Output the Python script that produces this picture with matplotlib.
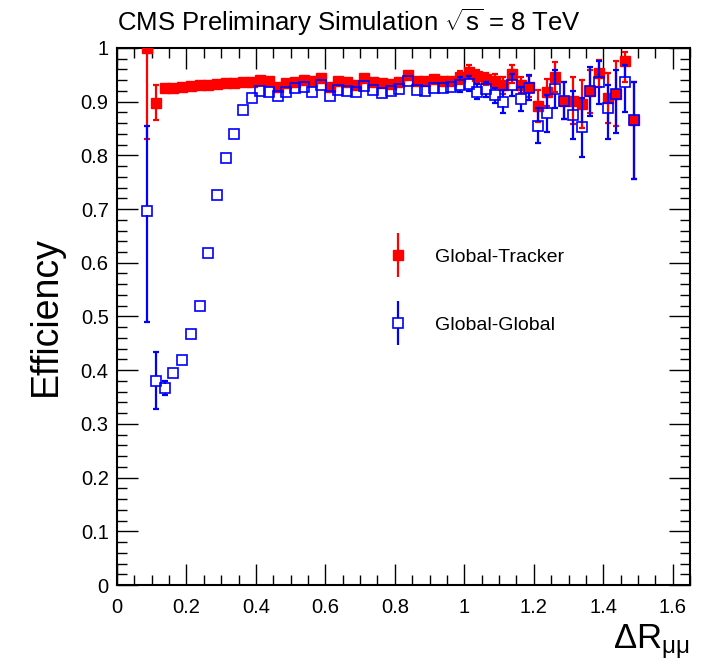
import numpy as np
import matplotlib
matplotlib.use("Agg")
import matplotlib.pyplot as plt
from matplotlib.ticker import MultipleLocator
from matplotlib.lines import Line2D

plt.rcParams['font.family'] = ['Liberation Sans', 'DejaVu Sans']
plt.rcParams['mathtext.fontset'] = 'custom'
plt.rcParams['mathtext.rm'] = 'Liberation Sans'
plt.rcParams['mathtext.it'] = 'Liberation Sans'

# bin centres of dR(mu,mu), 0.025 wide bins
dr = 0.0875 + 0.025 * np.arange(57)

# Global-Tracker efficiency
eff_gt = [1.000, 0.898, 0.925, 0.926, 0.928, 0.929, 0.930, 0.931, 0.932, 0.934,
          0.935, 0.936, 0.937, 0.940, 0.939, 0.927, 0.934, 0.937, 0.940, 0.938,
          0.944, 0.927, 0.938, 0.936, 0.931, 0.944, 0.936, 0.934, 0.933, 0.936,
          0.950, 0.939, 0.938, 0.942, 0.938, 0.939, 0.945, 0.956, 0.947, 0.942,
          0.939, 0.930, 0.952, 0.931, 0.928, 0.892, 0.917, 0.945, 0.902, 0.902,
          0.896, 0.919, 0.953, 0.907, 0.915, 0.976, 0.866]
err_gt_lo = [0.170, 0.033] + [0.004] * 19 + [0.005] * 9 + [0.008] * 6 + [0.012] * 5 + \
            [0.015, 0.017, 0.015, 0.020, 0.030, 0.025, 0.028, 0.034, 0.043, 0.045,
             0.040, 0.025, 0.047, 0.060, 0.040, 0.110]
err_gt_hi = [0.000, 0.033] + [0.004] * 19 + [0.005] * 9 + [0.008] * 6 + [0.012] * 5 + \
            [0.015, 0.017, 0.015, 0.020, 0.030, 0.025, 0.028, 0.034, 0.043, 0.045,
             0.040, 0.025, 0.047, 0.060, 0.017, 0.070]

# Global-Global efficiency
eff_gg = [0.697, 0.380, 0.366, 0.394, 0.419, 0.468, 0.520, 0.618, 0.726, 0.795,
          0.840, 0.884, 0.907, 0.919, 0.917, 0.911, 0.917, 0.925, 0.927, 0.917,
          0.930, 0.911, 0.922, 0.920, 0.917, 0.929, 0.922, 0.916, 0.919, 0.923,
          0.939, 0.922, 0.920, 0.925, 0.925, 0.928, 0.931, 0.933, 0.918, 0.923,
          0.912, 0.900, 0.931, 0.905, 0.926, 0.855, 0.878, 0.923, 0.902, 0.875,
          0.852, 0.919, 0.936, 0.889, 0.915, 0.936, 0.866]
err_gg_lo = [0.207, 0.053, 0.013] + [0.005] * 10 + [0.004] * 17 + [0.008] * 6 + [0.014] * 5 + \
            [0.022, 0.020, 0.022, 0.023, 0.033, 0.035, 0.035, 0.034, 0.045, 0.055,
             0.045, 0.040, 0.058, 0.073, 0.056, 0.110]
err_gg_hi = [0.158, 0.053, 0.013] + [0.005] * 10 + [0.004] * 17 + [0.008] * 6 + [0.014] * 5 + \
            [0.022, 0.020, 0.022, 0.023, 0.033, 0.035, 0.035, 0.034, 0.045, 0.055,
             0.045, 0.040, 0.042, 0.044, 0.032, 0.070]

fig = plt.figure(figsize=(7.02, 6.65), dpi=100)
ax = fig.add_axes([0.1667, 0.1203, 0.8163, 0.8077])
ax.set_xlim(0, 1.65)
ax.set_ylim(0, 1)

MS = 6.8


def root_errors(x, y, lo, hi, color, z):
    # ROOT style: bars stop at the marker edge, hidden when inside it
    x = np.asarray(x); y = np.asarray(y); lo = np.asarray(lo); hi = np.asarray(hi)
    ax_h_px = ax.get_position().height * fig.get_figheight() * fig.dpi
    half = (MS / 2) * fig.dpi / 72 / ax_h_px
    up = hi > half
    dn = lo > half
    ax.vlines(x[up], y[up] + half, y[up] + hi[up], color=color, lw=1.6, zorder=z)
    ax.vlines(x[dn], y[dn] - lo[dn], y[dn] - half, color=color, lw=1.6, zorder=z)
    ax.plot(x[up], (y + hi)[up], ls='none', marker='_', ms=5, mew=1.6, color=color, zorder=z)
    ax.plot(x[dn], (y - lo)[dn], ls='none', marker='_', ms=5, mew=1.6, color=color, zorder=z)


root_errors(dr, eff_gt, err_gt_lo, err_gt_hi, '#ff0000', 2)
ax.plot(dr, eff_gt, ls='none', marker='s', ms=MS, color='#ff0000', mec='#ff0000', zorder=3)
root_errors(dr, eff_gg, err_gg_lo, err_gg_hi, '#0000ff', 4)
ax.plot(dr, eff_gg, ls='none', marker='s', ms=MS, mfc='none', mec='#0000ff', mew=1.2, zorder=5)

ax.xaxis.set_minor_locator(MultipleLocator(0.05))
ax.yaxis.set_minor_locator(MultipleLocator(0.02))
ax.set_xticks([0, 0.2, 0.4, 0.6, 0.8, 1.0, 1.2, 1.4, 1.6])
ax.set_xticklabels(['0', '0.2', '0.4', '0.6', '0.8', '1', '1.2', '1.4', '1.6'])
ax.set_yticks(np.arange(0, 1.01, 0.1))
ax.set_yticklabels(['0', '0.1', '0.2', '0.3', '0.4', '0.5', '0.6', '0.7', '0.8', '0.9', '1'])
ax.tick_params(which='both', direction='in', top=True, right=True, labelsize=14.5, width=1)
ax.tick_params(which='major', length=15)
ax.tick_params(axis='x', which='major', pad=9)
ax.tick_params(axis='y', which='major', pad=6)
ax.tick_params(which='minor', length=7.5)
for s in ax.spines.values():
    s.set_linewidth(1.5)

ax.set_ylabel('Efficiency', fontsize=27, labelpad=12)
fig.text(0.983, 0.025, r'$\Delta\mathrm{R}_{\mathrm{μμ}}$', fontsize=25, ha='right', va='baseline')

fig.text(0.1667, 0.953, r'CMS Preliminary Simulation $\sqrt{\mathrm{s}}$ = 8 TeV',
         fontsize=18.5, ha='left', va='baseline')

h_gt = (Line2D([], [], ls='none', marker='|', ms=31, mew=1.6, color='#ff0000'),
        Line2D([], [], ls='none', marker='s', ms=7, color='#ff0000'))
h_gg = (Line2D([], [], ls='none', marker='|', ms=31, mew=1.6, color='#0000ff'),
        Line2D([], [], ls='none', marker='s', ms=7, mfc='white', mec='#0000ff', mew=1.2))
ax.legend([h_gt, h_gg], ['Global-Tracker', 'Global-Global'], loc='upper left',
          bbox_to_anchor=(0.44, 0.66), frameon=False, fontsize=14, handlelength=1.2,
          handletextpad=1.3, labelspacing=2.6)

fig.savefig('out.png', dpi=100)
